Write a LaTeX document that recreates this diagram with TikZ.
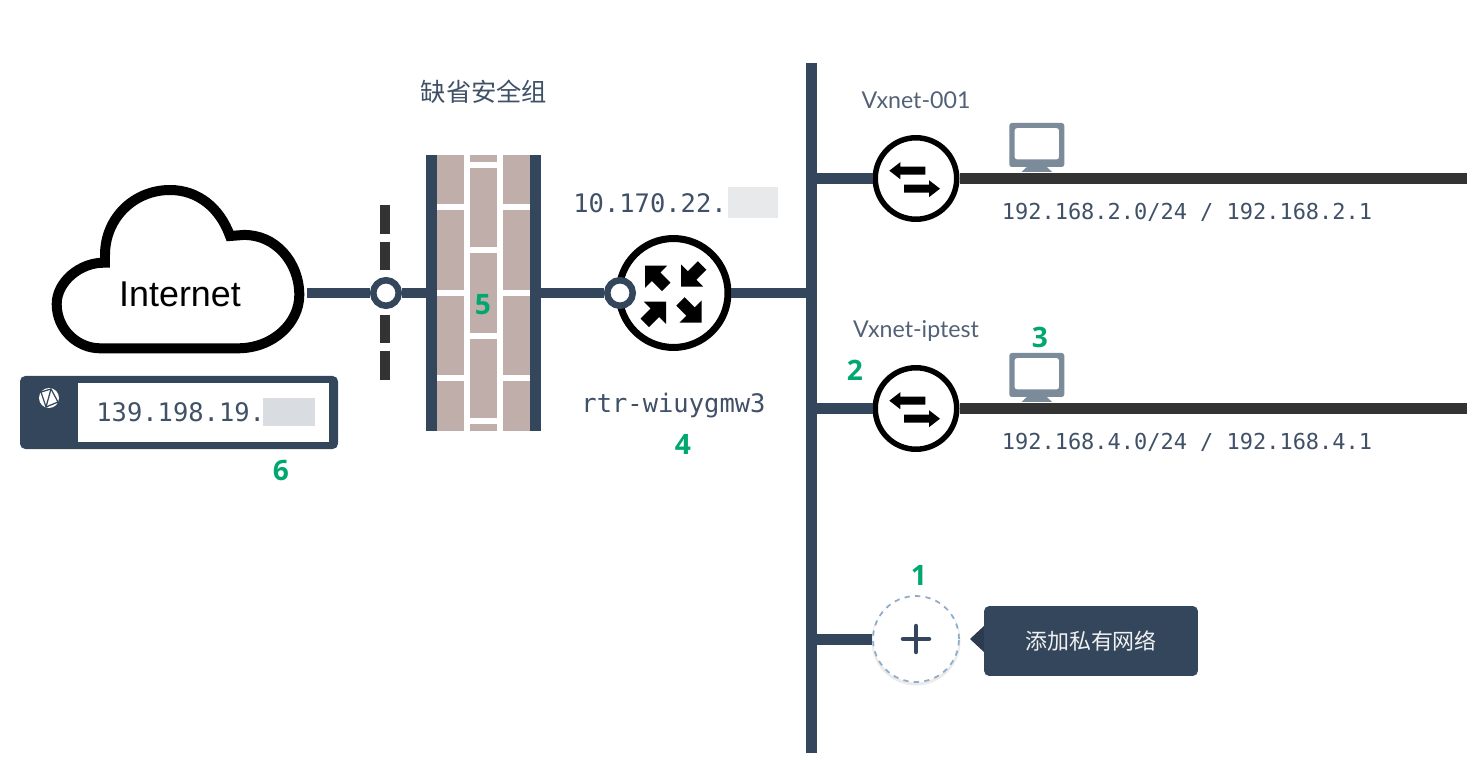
\documentclass[tikz,border=0pt]{standalone}
\usepackage{fontspec}
\setmainfont{Liberation Sans}
\newfontfamily\cjkfont{Noto Sans CJK SC}
\newfontfamily\codefont{DejaVu Sans Mono}
\newfontfamily\latofont{Lato}
\newfontfamily\markfont{Open Sans}
\usetikzlibrary{positioning}
\definecolor{navy}{HTML}{34465B}
\definecolor{darkline}{HTML}{333333}
\definecolor{brick}{HTML}{C0AEAA}
\definecolor{screen}{HTML}{7C8B9A}
\definecolor{mark}{HTML}{00A870}
\definecolor{codetext}{HTML}{3F5067}
\definecolor{dashblue}{HTML}{8FACC8}
\definecolor{smudge}{HTML}{D9DCE0}
\definecolor{paleSmudge}{HTML}{E8E9EB}
\tikzset{
  bus/.style={navy, line width=0.22cm},
  subnet/.style={darkline, line width=0.22cm},
  ring/.style={circle, draw=navy, fill=white, line width=0.13cm, minimum size=0.51cm, inner sep=0pt},
  switchnode/.style={circle, draw=black, fill=white, line width=0.11cm, minimum size=1.63cm, inner sep=0pt},
  mortar/.style={white, line width=0.12cm},
  code/.style={font=\codefont\fontsize{14.5}{16}\selectfont, text=codetext, inner sep=0pt},
  subcode/.style={font=\codefont\fontsize{12.5}{15}\selectfont, text=codetext, inner sep=0pt},
  netname/.style={font=\latofont\fontsize{13.2}{15}\selectfont, text=codetext!90, inner sep=0pt},
  callout/.style={font=\markfont\bfseries\fontsize{16}{18}\selectfont, text=mark, inner sep=0pt},
  bigarrow/.pic={\fill[black] (0,0) -- (-15.7,15.7) -- (-15.7,6) -- (-30,6) -- (-30,-6) -- (-15.7,-6) -- (-15.7,-15.7) -- cycle;},
  flatarrow/.pic={\fill[black] (0,0) -- (-11,8.5) -- (-11,4) -- (-36,4) -- (-36,-4) -- (-11,-4) -- (-11,-8.5) -- cycle;},
  monitor/.pic={
    \fill[screen, rounded corners=1.5pt, even odd rule] (-27.5,-22) rectangle (27.5,22) (-22.3,-17) rectangle (22.3,14.5);
    \fill[screen] (-10,22) -- (10,22) -- (15.3,27) -- (-15.3,27) -- cycle;
  }
}
\begin{document}
\begin{tikzpicture}[x=0.02cm, y=-0.02cm]
  \useasboundingbox (0,0) rectangle (1475,760);
  % cloud
  \draw[line width=0.2cm, black, fill=white] (100,348.3) -- (238,348.3)
     .. controls (273,348.3) and (299.3,323) .. (299.3,295)
     .. controls (299.3,262) and (275,234) .. (243,235) -- (230,236)
     .. controls (220,208) and (198,190) .. (170,190)
     .. controls (134,190) and (105,218) .. (105,255) -- (105,262.7)
     .. controls (80,262) and (56.7,282) .. (56.7,304)
     .. controls (56.7,330) and (78,348.3) .. (100,348.3) -- cycle;
  \node[font=\fontsize{20.4}{24}\selectfont, inner sep=0pt] (inet) at (180,294) {Internet};
  \coordinate (cloudr) at (307,293);
  % dashed boundary
  \coordinate (fencet) at (385,205);
  \coordinate (fenceb) at (385,381);
  \draw[darkline, line width=0.185cm, dash pattern=on 16.4pt off 4.4pt] (fencet) -- (fenceb);
  % wall
  \node[minimum width=2.3cm, minimum height=5.52cm, inner sep=0pt, outer sep=0pt] (wall) at (483.5,293) {};
  \fill[brick] (437,155) rectangle (464,431);
  \fill[brick] (470,155) rectangle (497,431);
  \fill[brick] (503,155) rectangle (530,431);
  \draw[mortar] (437,207) -- (464,207);
  \draw[mortar] (437,293) -- (464,293);
  \draw[mortar] (437,378) -- (464,378);
  \draw[mortar] (503,207) -- (530,207);
  \draw[mortar] (503,293) -- (530,293);
  \draw[mortar] (503,378) -- (530,378);
  \draw[mortar] (470,165) -- (497,165);
  \draw[mortar] (470,250) -- (497,250);
  \draw[mortar] (470,336) -- (497,336);
  \draw[mortar] (470,421) -- (497,421);
  \fill[navy] (wall.north west) rectangle (437,431);
  \fill[navy] (530,155) rectangle (wall.south east);
  % router
  \node[circle, draw=black, fill=white, line width=0.14cm, minimum size=2.18cm, inner sep=0pt] (rtr) at (673.5,293) {};
  \pic[rotate=135] at (645,265.7) {bigarrow};
  \pic[rotate=225] at (681,286.7) {bigarrow};
  \pic[rotate=45] at (666,301.7) {bigarrow};
  \pic[rotate=-45] at (701.7,322.7) {bigarrow};
  % bus and branches
  \node[minimum width=0.22cm, minimum height=13.8cm, inner sep=0pt, outer sep=0pt, fill=navy] (vbus) at (811.5,408) {};
  \node[ring] (eipring) at (386,293) {};
  \node[ring] (rtrring) at (620,293) {};
  \draw[bus] (cloudr) -- (eipring);
  \draw[bus] (eipring) -- (wall.west);
  \draw[bus] (wall.east) -- (rtrring);
  \draw[bus] (rtr.east) -- (rtr.east -| vbus.west);
  % vxnets
  \node[switchnode] (sw1) at (916,178.5) {};
  \node[switchnode] (sw2) at (916,408.5) {};
  \node[circle, draw=black!8, line width=0.06cm, minimum size=1.72cm, inner sep=0pt] (addshade) at (916,641) {};
  \node[circle, draw=dashblue, fill=white, dashed, line width=0.035cm, minimum size=1.72cm, inner sep=0pt] (addnet) at (916,639) {};
  \draw[bus] (sw1.west -| vbus.east) -- (sw1.west);
  \draw[bus] (sw2.west -| vbus.east) -- (sw2.west);
  \draw[bus] (addnet.west -| vbus.east) -- (addnet.west);
  \coordinate (net1end) at (1467,178.5);
  \coordinate (net2end) at (1467,408.5);
  \draw[subnet] (960,178.5) -- (net1end);
  \draw[subnet] (960,408.5) -- (net2end);
  \pic[rotate=180] at (889.3,170.7) {flatarrow};
  \pic at (940,188.7) {flatarrow};
  \pic[rotate=180] at (889.3,400.7) {flatarrow};
  \pic at (940,418.7) {flatarrow};
  \pic at (1036.8,145) {monitor};
  \pic at (1036.8,375) {monitor};
  \draw[navy, line width=0.09cm, line cap=round] (903,639) -- (929,639);
  \draw[navy, line width=0.09cm, line cap=round] (916,626) -- (916,652);
  % tooltip
  \fill[navy!85!black] (970,639) -- (985,625) -- (985,653) -- cycle;
  \node[fill=navy, rounded corners=3pt, minimum width=4.28cm, minimum height=1.4cm, inner sep=0pt,
        text=white!92!navy, font=\cjkfont\fontsize{12.5}{15}\selectfont] (tip) at (1091,641) {添加私有网络};
  % public address
  \fill[navy, rounded corners=3pt] (20,376) rectangle (338,449);
  \fill[white] (78.3,383.3) rectangle (329,442.3);
  \fill[white] (49,398) circle (10);
  \draw[navy, line width=0.025cm] (41,392) -- (51,389) -- (58,402) -- (46,407) -- cycle;
  \draw[navy, line width=0.025cm] (51,389) -- (46,407);
  \node[code, anchor=west] (eip) at (96,412) {139.198.19.};
  \fill[smudge] (263,398) rectangle (315,426);
  % labels
  \node[font=\cjkfont\fontsize{14.4}{17}\selectfont, text=codetext, inner sep=0pt] (sgname) at (484,92) {缺省安全组};
  \node[code, anchor=west] (rtrip) at (573,203) {10.170.22.};
  \fill[paleSmudge] (728,187) rectangle (778,218);
  \node[code] (rtrname) at (673.5,406) {rtr-wiuygmw3};
  \node[netname] (net1name) at (916,100) {Vxnet-001};
  \node[netname] (net2name) at (916,331) {Vxnet-iptest};
  \node[subcode] (net1ip) at (1187,212) {192.168.2.0/24 / 192.168.2.1};
  \node[subcode] (net2ip) at (1187,442) {192.168.4.0/24 / 192.168.4.1};
  % numbered marks
  \node[callout] (mark1) at (919,575) {1};
  \node[callout] (mark2) at (855,370) {2};
  \node[callout] (mark3) at (1040,337) {3};
  \node[callout] (mark4) at (683,444) {4};
  \node[callout] (mark5) at (483,305) {5};
  \node[callout] (mark6) at (281,470) {6};
\end{tikzpicture}
\end{document}
